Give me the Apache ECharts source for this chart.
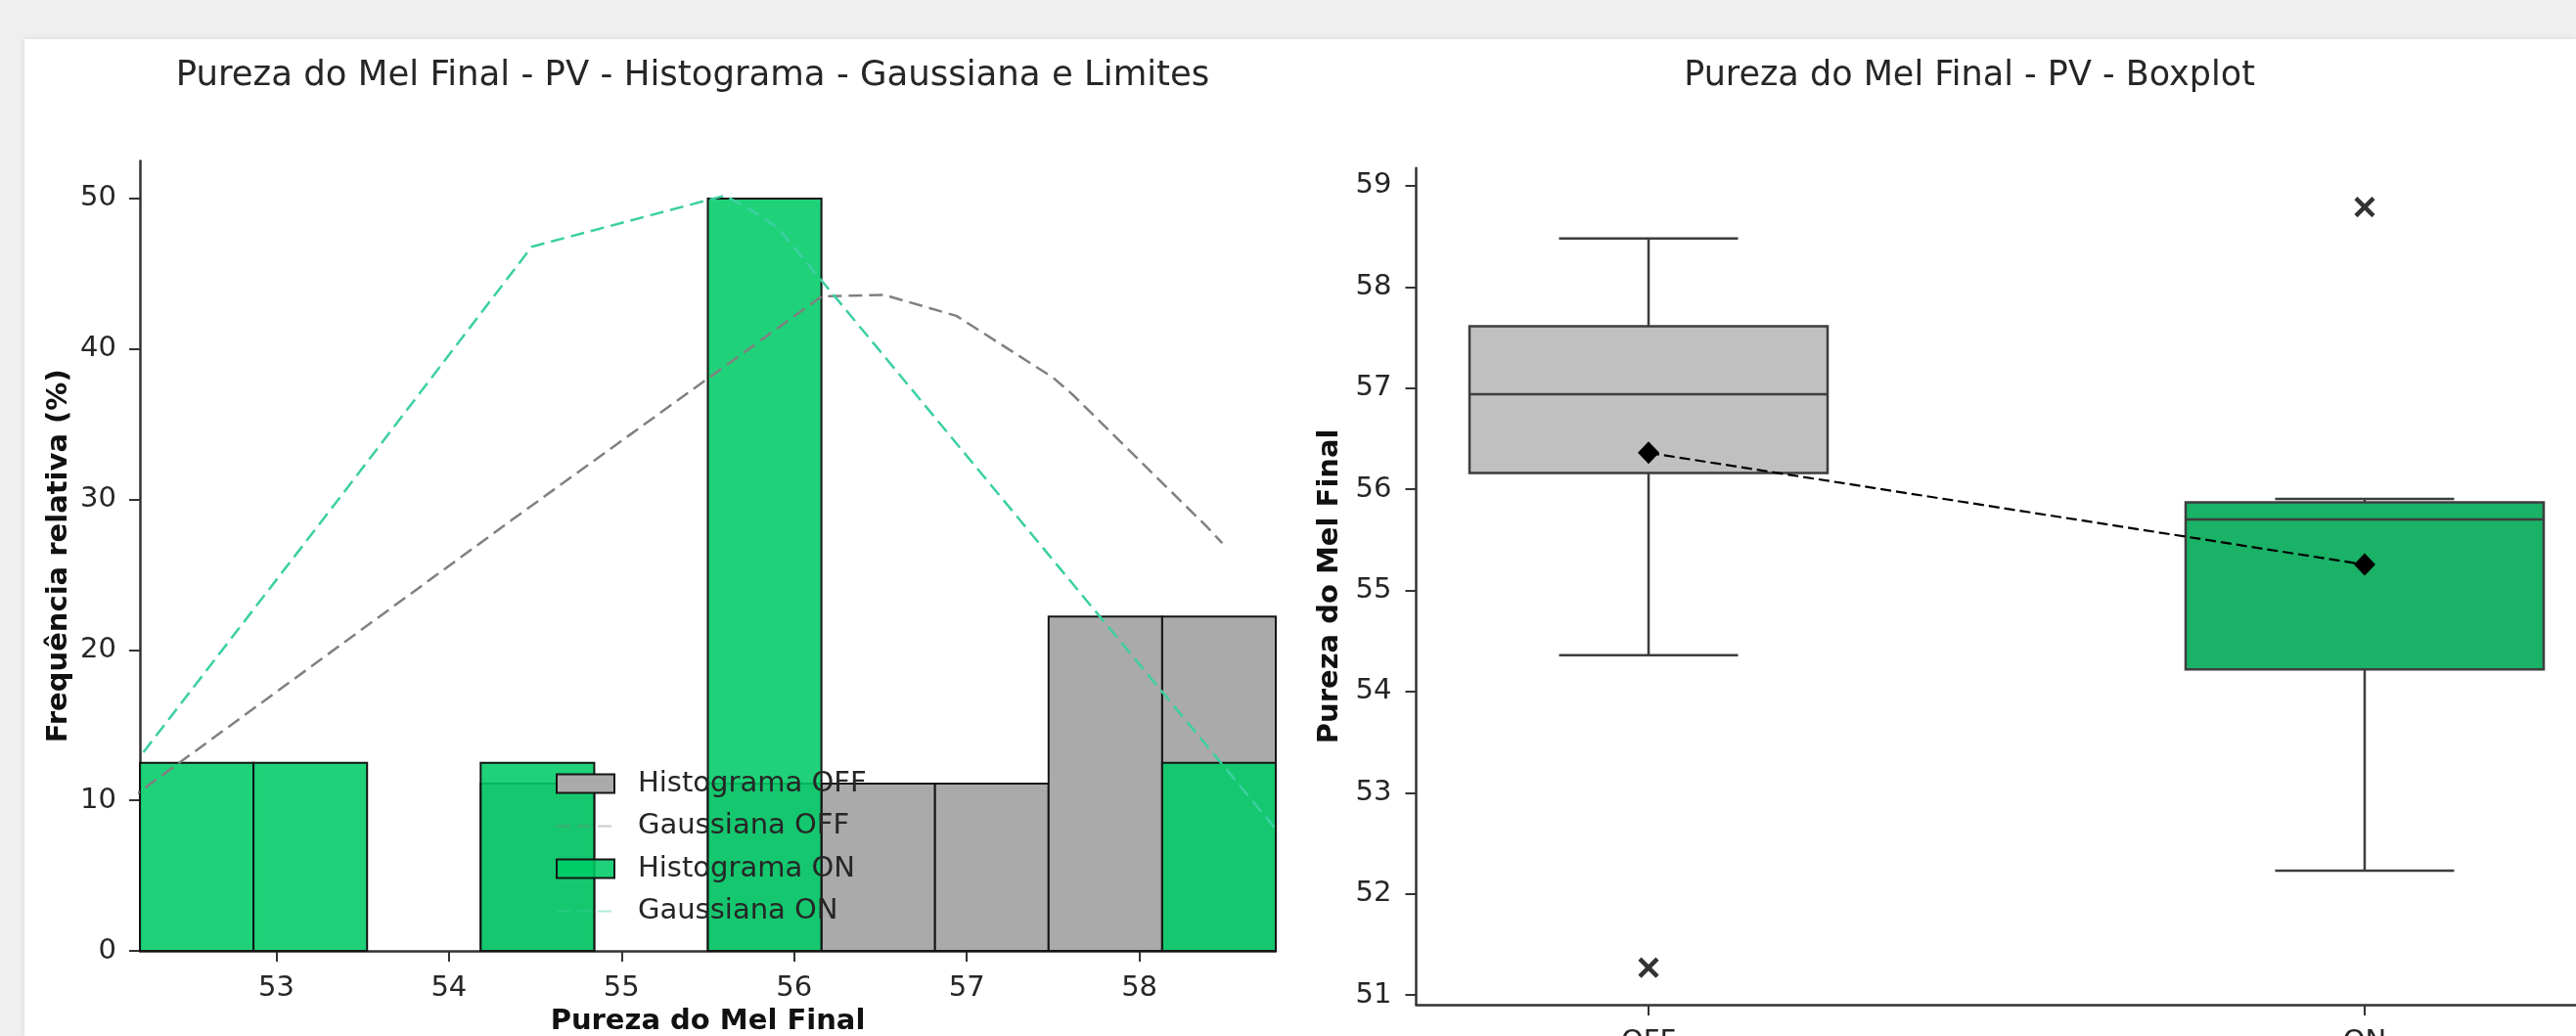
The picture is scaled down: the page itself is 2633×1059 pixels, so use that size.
<!DOCTYPE html>
<html><head><meta charset="utf-8">
<script src="https://cdn.jsdelivr.net/npm/echarts@6/dist/echarts.min.js"></script>
<style>
html,body{margin:0;padding:0;width:2633px;height:1059px;background:#efefef;overflow:hidden;}
#panel{position:absolute;left:25px;top:40px;right:0;bottom:0;background:#fff;box-shadow:0 0 6px rgba(0,0,0,0.10);}
#chart{position:absolute;left:0;top:0;width:2633px;height:1059px;}
</style></head><body>
<div id="panel"></div><div id="chart"></div>
<script>
// ---------- data ----------
const binEdges = [52.21, 52.868, 53.526, 54.184, 54.842, 55.50, 56.158, 56.816, 57.474, 58.132, 58.79];
const offFreq = [0, 0, 0, 11.11, 0, 11.11, 11.11, 11.11, 22.22, 22.22];
const onFreq  = [12.5, 12.5, 0, 12.5, 0, 50, 0, 0, 0, 12.5];
const offGaussX = [51.28, 54.36, 56.16, 56.52, 56.94, 57.50, 57.61, 58.39, 58.48];
const offGaussY = [2.8, 28.6, 43.5, 43.6, 42.2, 38.1, 37.0, 28.2, 27.1];
const onGaussX = [52.23, 53.38, 54.48, 55.60, 55.80, 55.86, 55.91, 58.79];
const onGaussY = [13.2, 30.3, 46.8, 50.2, 48.9, 48.4, 48.0, 8.1];
const histXTicks = [53, 54, 55, 56, 57, 58];
const histYTicks = [0, 10, 20, 30, 40, 50];

const boxCategories = ['OFF', 'ON'];
const offBox = [54.36, 56.16, 56.94, 57.61, 58.48];   // min, Q1, median, Q3, max
const onBox  = [52.23, 54.22, 55.70, 55.87, 55.905];
const boxMeans = [56.36, 55.255];
const offOutliers = [51.27];
const onOutliers = [58.79];
const boxYTicks = [51, 52, 53, 54, 55, 56, 57, 58, 59];

// ---------- styles ----------
const FONT = 'DejaVu Sans';
const TXT = '#262626';
const AX = '#333333';
const offHistFill = '#aaaaaa';
const onHistFill = 'rgba(0,204,102,0.88)';
const boxFills = ['#c0c0c0', '#1ab266'];
const boxEdge = '#3d3d3d';

function pairs(xs, ys) { return xs.map((x, i) => [x, ys[i]]); }
function histData(freq) { return freq.map((f, i) => [binEdges[i], binEdges[i + 1], f]); }

function histRender(fill) {
  return function (params, api) {
    const x0 = api.value(0), x1 = api.value(1), h = api.value(2);
    if (!h) return null;
    const p0 = api.coord([x0, 0]), p1 = api.coord([x1, h]);
    return {
      type: 'rect',
      shape: { x: p0[0], y: p1[1], width: p1[0] - p0[0], height: p0[1] - p1[1] },
      style: { fill: fill, stroke: '#151515', lineWidth: 2 }
    };
  };
}

function boxRender(params, api) {
  const x = api.value(0);
  const lo = api.value(1), q1 = api.value(2), med = api.value(3), q3 = api.value(4), hi = api.value(5);
  const hw = 0.25, cw = 0.125;
  const tl = api.coord([x - hw, q3]), br = api.coord([x + hw, q1]);
  const c = api.coord([x, med]);
  const pLo = api.coord([x, lo]), pHi = api.coord([x, hi]);
  const capL = api.coord([x - cw, lo])[0], capR = api.coord([x + cw, lo])[0];
  const ls = { stroke: boxEdge, lineWidth: 2.5 };
  return {
    type: 'group',
    children: [
      { type: 'line', shape: { x1: c[0], y1: br[1], x2: c[0], y2: pLo[1] }, style: ls },
      { type: 'line', shape: { x1: c[0], y1: tl[1], x2: c[0], y2: pHi[1] }, style: ls },
      { type: 'line', shape: { x1: capL, y1: pLo[1], x2: capR, y2: pLo[1] }, style: ls },
      { type: 'line', shape: { x1: capL, y1: pHi[1], x2: capR, y2: pHi[1] }, style: ls },
      { type: 'rect', shape: { x: tl[0], y: tl[1], width: br[0] - tl[0], height: br[1] - tl[1] },
        style: { fill: boxFills[params.dataIndex], stroke: boxEdge, lineWidth: 2.5 } },
      { type: 'line', shape: { x1: tl[0], y1: c[1], x2: br[0], y2: c[1] }, style: ls }
    ]
  };
}

const axisLineCommon = { show: true, onZero: false, lineStyle: { color: AX, width: 2.5 } };
const tickCommon = { show: true, length: 11, lineStyle: { color: AX, width: 2 } };
const labelCommon = { fontSize: 29, fontFamily: FONT, color: TXT, margin: 24 };
const nameCommon = { fontSize: 29, fontFamily: FONT, fontWeight: 'bold', color: '#111' };

const chart = echarts.init(document.getElementById('chart'), null, { renderer: 'canvas' });
chart.setOption({
  animation: false,
  backgroundColor: 'transparent',
  title: [
    { text: 'Pureza do Mel Final - PV - Histograma - Gaussiana e Limites', left: 703, top: 55, textAlign: 'center',
      textStyle: { fontSize: 35.5, fontWeight: 'normal', fontFamily: FONT, color: TXT } },
    { text: 'Pureza do Mel Final - PV - Boxplot', left: 2008, top: 55, textAlign: 'center',
      textStyle: { fontSize: 35, fontWeight: 'normal', fontFamily: FONT, color: TXT } }
  ],
  grid: [
    { left: 143, top: 164.5, width: 1161, height: 807.5, containLabel: false, outerBoundsMode: 'none' },
    { left: 1447.5, top: 171.7, width: 1207, height: 855.3, containLabel: false, outerBoundsMode: 'none' }
  ],
  legend: {
    orient: 'vertical', left: 563, top: 781, itemWidth: 59, itemHeight: 19, itemGap: 13.5,
    selectedMode: false,
    textStyle: { fontSize: 29, fontFamily: FONT, color: TXT, lineHeight: 30, padding: [0, 0, 0, 19] },
    data: [
      { name: 'Histograma OFF', icon: 'rect', itemStyle: { color: offHistFill, borderColor: '#151515', borderWidth: 2 } },
      { name: 'Gaussiana OFF', lineStyle: { opacity: 0.4 }, itemStyle: { opacity: 0 } },
      { name: 'Histograma ON', icon: 'rect', itemStyle: { color: onHistFill, borderColor: '#151515', borderWidth: 2 } },
      { name: 'Gaussiana ON', lineStyle: { opacity: 0.4 }, itemStyle: { opacity: 0 } }
    ]
  },
  xAxis: [
    { type: 'value', gridIndex: 0, min: 52.21, max: 58.79,
      axisLine: axisLineCommon,
      axisTick: Object.assign({ customValues: histXTicks }, tickCommon),
      axisLabel: Object.assign({ customValues: histXTicks, formatter: v => String(v) }, labelCommon),
      splitLine: { show: false },
      name: 'Pureza do Mel Final', nameLocation: 'middle', nameGap: 57, nameTextStyle: nameCommon },
    { type: 'value', gridIndex: 1, min: -0.3245, max: 1.3245,
      axisLine: axisLineCommon,
      axisTick: Object.assign({ customValues: [0, 1] }, tickCommon),
      axisLabel: Object.assign({ customValues: [0, 1], formatter: v => boxCategories[Math.round(v)] }, labelCommon),
      splitLine: { show: false } }
  ],
  yAxis: [
    { type: 'value', gridIndex: 0, min: 0, max: 52.5,
      axisLine: axisLineCommon,
      axisTick: Object.assign({ customValues: histYTicks }, tickCommon),
      axisLabel: Object.assign({ customValues: histYTicks }, labelCommon),
      splitLine: { show: false },
      name: 'Frequência relativa (%)', nameLocation: 'middle', nameRotate: 90, nameGap: 68, nameTextStyle: nameCommon },
    { type: 'value', gridIndex: 1, min: 50.904, max: 59.176,
      axisLine: axisLineCommon,
      axisTick: Object.assign({ customValues: boxYTicks }, tickCommon),
      axisLabel: Object.assign({ customValues: boxYTicks }, labelCommon, { margin: 25 }),
      splitLine: { show: false },
      name: 'Pureza do Mel Final', nameLocation: 'middle', nameRotate: 90, nameGap: 74, nameTextStyle: nameCommon }
  ],
  series: [
    { name: 'Histograma OFF', type: 'custom', xAxisIndex: 0, yAxisIndex: 0,
      renderItem: histRender(offHistFill), encode: { x: [0, 1], y: 2 },
      itemStyle: { color: offHistFill, borderColor: '#151515', borderWidth: 2 },
      data: histData(offFreq) },
    { name: 'Histograma ON', type: 'custom', xAxisIndex: 0, yAxisIndex: 0,
      renderItem: histRender(onHistFill), encode: { x: [0, 1], y: 2 },
      itemStyle: { color: onHistFill, borderColor: '#151515', borderWidth: 2 },
      data: histData(onFreq) },
    { name: 'Gaussiana OFF', type: 'line', xAxisIndex: 0, yAxisIndex: 0, symbol: 'none', showSymbol: false,
      lineStyle: { color: '#808080', width: 2.5, type: [14, 7] }, itemStyle: { color: '#808080' },
      data: pairs(offGaussX, offGaussY) },
    { name: 'Gaussiana ON', type: 'line', xAxisIndex: 0, yAxisIndex: 0, symbol: 'none', showSymbol: false,
      lineStyle: { color: '#3ccfa3', width: 2.5, type: [14, 7] }, itemStyle: { color: '#3ccfa3' },
      data: pairs(onGaussX, onGaussY) },
    { name: 'Boxes', type: 'custom', xAxisIndex: 1, yAxisIndex: 1,
      renderItem: boxRender, encode: { x: 0, y: [1, 2, 3, 4, 5] },
      data: [[0].concat(offBox), [1].concat(onBox)] },
    { name: 'Médias', type: 'line', xAxisIndex: 1, yAxisIndex: 1,
      symbol: 'diamond', symbolSize: [22, 23], showSymbol: true,
      lineStyle: { color: '#000', width: 2.2, type: [11, 5] }, itemStyle: { color: '#000' },
      data: boxMeans.map((m, i) => [i, m]), z: 5 },
    { name: 'Outliers', type: 'scatter', xAxisIndex: 1, yAxisIndex: 1,
      symbol: 'path://M0,0L10,10M10,0L0,10', symbolSize: 18,
      itemStyle: { color: 'none', borderColor: '#000', borderWidth: 4.5 },
      data: offOutliers.map(v => [0, v]).concat(onOutliers.map(v => [1, v])), z: 5 }
  ]
});
</script>
</body></html>
